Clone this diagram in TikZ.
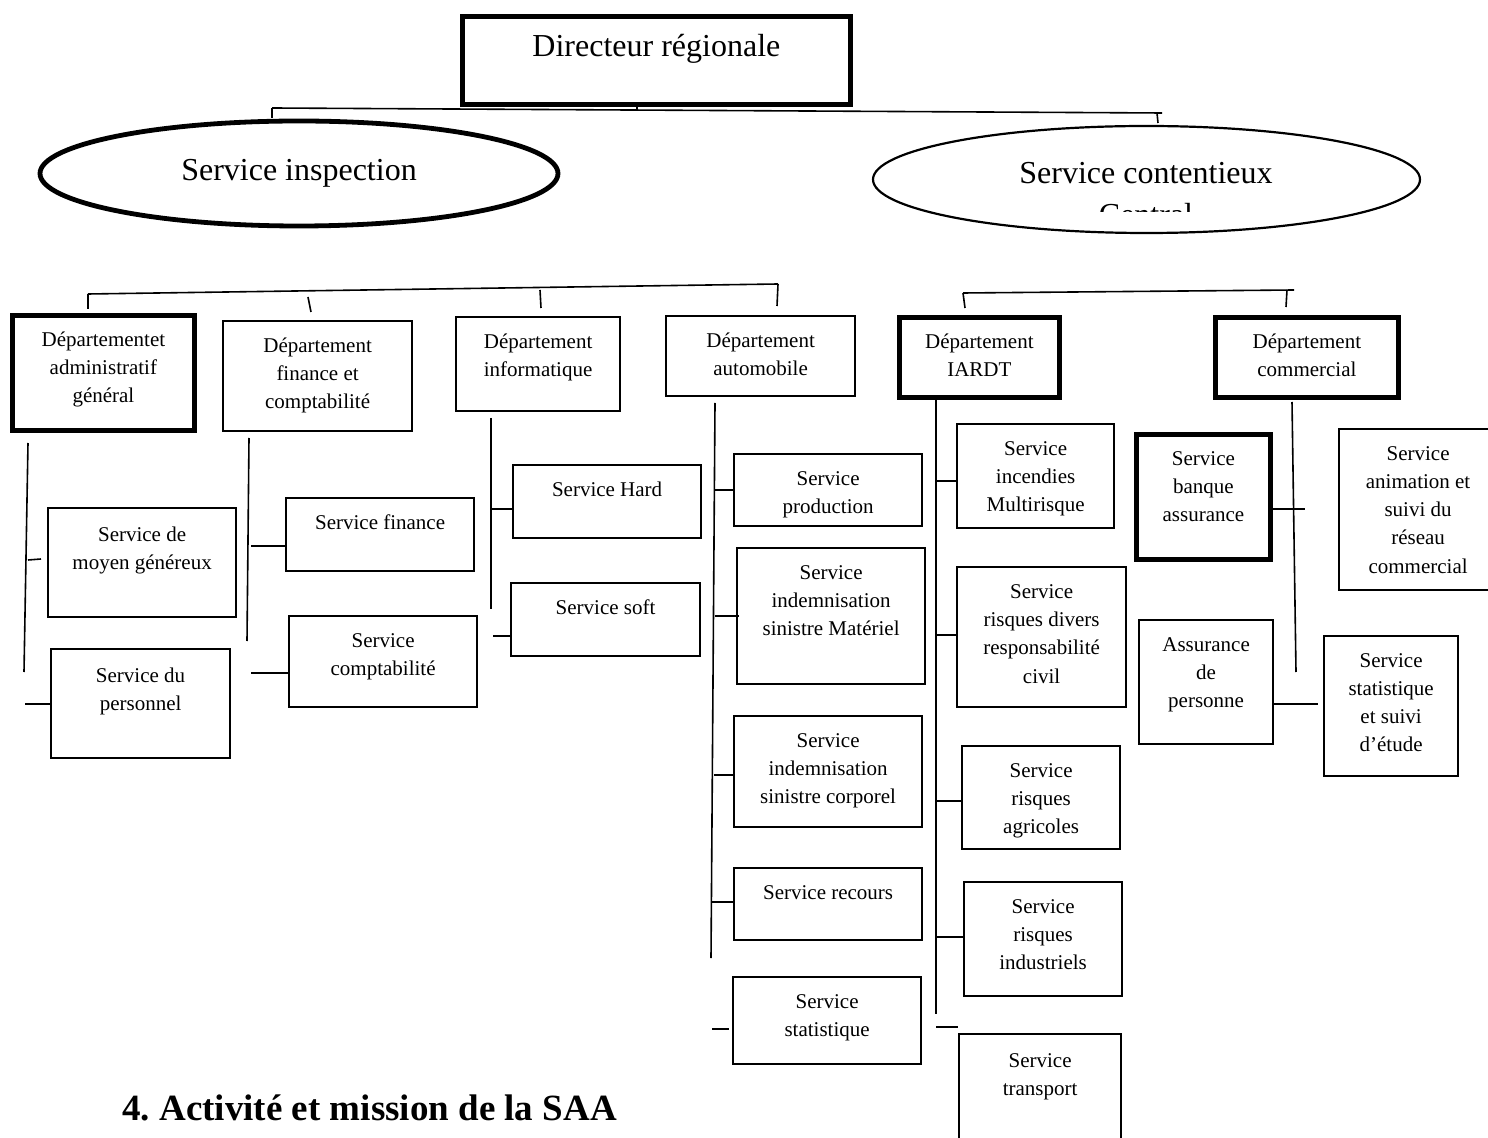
\documentclass[tikz,border=0pt]{standalone}
\usepackage{fontspec}
\setmainfont{Liberation Serif}
\usetikzlibrary{shapes.geometric}
\frenchspacing

\tikzset{
  first baseline/.store in=\firstbase,
  first baseline=15.5pt,
  unitbox/.style={draw, line width=1.1pt, anchor=north west, inner sep=0pt,
    font=\fontsize{10.5}{14.15}\selectfont},
  heavy/.style={line width=2.4pt},
  wire/.style={line width=0.8pt},
  bigtext/.style={font=\fontsize{16}{18.4}\selectfont},
}

% #1 extra style, #2 name, #3 left, #4 top, #5 right, #6 bottom, #7 text
\newcommand\orgbox[7][]{%
  \node[unitbox,#1] (#2) at (#3,#4)
    {\parbox[t][\dimexpr(#6pt-#4pt)/2\relax][t]{\dimexpr(#5pt-#3pt)/2\relax}%
      {\centering\rule{0pt}{\firstbase}#7\par}};}

\begin{document}
\begin{tikzpicture}[x=0.5pt, y=-0.5pt]
\useasboundingbox (0,0) rectangle (1488,1138);
\fill[white] (0,0) rectangle (1488,1138);
\clip (0,0) rectangle (1488,1138);

% ---------- top of the chart ----------
\orgbox[heavy, bigtext, first baseline=20pt]{dir}{460}{14}{848}{102}{Directeur régionale}

\node[ellipse, draw, line width=2.4pt, minimum width=259pt, minimum height=52.5pt,
      inner sep=0pt, bigtext] (inspection) at (299,173.5) {Service inspection};

\node[ellipse, draw, line width=1.1pt, minimum width=273.5pt, minimum height=53.5pt,
      inner sep=0pt] (contentieux) at (1146.5,179.5) {};
\node[anchor=base, inner sep=0pt, bigtext] (conttitle) at (1146,184) {Service contentieux};
\begin{scope}
  \clip (873,126) rectangle (1420,212);
  \node[anchor=base, inner sep=0pt, bigtext] (contsub) at (1146,226) {Central};
\end{scope}

% ---------- departments ----------
\orgbox[heavy]{dadmin}{10}{313}{192}{428}{Départementet\\administratif\\général}
\orgbox{dfin}{222}{320}{411}{430}{Département\\finance et\\comptabilité}
\orgbox{dinfo}{455}{316}{619}{410}{Département\\informatique}
\orgbox{dauto}{665}{315}{854}{395}{Département\\automobile}
\orgbox[heavy]{diardt}{897}{315}{1057}{395}{Département\\IARDT}
\orgbox[heavy]{dcom}{1213}{315}{1396}{395}{Département\\commercial}

% ---------- services ----------
\orgbox[first baseline=16.5pt]{smoyen}{47}{507}{235}{616}{Service de\\moyen généreux}
\orgbox[first baseline=16.5pt]{sperso}{50}{648}{229}{757}{Service du\\personnel}
\orgbox{sfin}{285}{497}{473}{570}{Service finance}
\orgbox{scompta}{288}{615}{476}{706}{Service\\comptabilité}
\orgbox{shard}{512}{464}{700}{537}{Service Hard}
\orgbox{ssoft}{510}{582}{699}{655}{Service soft}
\orgbox{sprod}{733}{453}{921}{525}{Service\\production}
\orgbox{smat}{736}{547}{924}{683}{Service\\indemnisation\\sinistre Matériel}
\orgbox{scorp}{733}{715}{921}{826}{Service\\indemnisation\\sinistre corporel}
\orgbox{srec}{733}{867}{921}{939}{Service recours}
\orgbox{sstat}{732}{976}{920}{1063}{Service\\statistique}
\orgbox{sinc}{956}{423}{1113}{527}{Service\\incendies\\Multirisque}
\orgbox{sdiv}{956}{566}{1125}{706}{Service\\risques divers\\responsabilité\\civil}
\orgbox{sagri}{961}{745}{1119}{848}{Service\\risques\\agricoles}
\orgbox{sind}{963}{881}{1121}{995}{Service\\risques\\industriels}
\orgbox[first baseline=16.5pt]{strans}{958}{1033}{1120}{1150}{Service\\transport}
\orgbox[heavy]{sbanque}{1134}{432}{1268}{557}{Service\\banque\\assurance}
\orgbox{sanim}{1338}{428}{1496}{589}{Service\\animation et\\suivi du\\réseau\\commercial}
\orgbox{spers}{1138}{619}{1272}{743}{Assurance\\de\\personne}
\orgbox{sstud}{1323}{635}{1457}{775}{Service\\statistique\\et suivi\\d’étude}

\node[anchor=base west, inner sep=0pt, font=\fontsize{18.5}{22}\selectfont\bfseries]
  (heading) at (122,1120) {4. Activité et mission de la SAA};

% ---------- connectors ----------
\begin{scope}[wire]
  % director to the staff services
  \coordinate (topL) at (272,108);
  \coordinate (topR) at (1162,113);
  \coordinate (dirfoot) at (637,109);
  \coordinate (inspTick) at (272,118);
  \coordinate (contTickA) at (1157,113);
  \coordinate (contTickB) at (1158,123);
  \draw (dir.south -| dirfoot) -- (dirfoot);
  \draw (topL) -- (topR);
  \draw (topL) -- (inspTick);
  \draw (contTickA) -- (contTickB);

  % bracket over the four left departments
  \coordinate (lbL) at (88,294);
  \coordinate (lbR) at (778,284);
  \coordinate (lbA) at (88,309);
  \coordinate (lbB1) at (308,297);
  \coordinate (lbB2) at (311,312);
  \coordinate (lbC1) at (540,290);
  \coordinate (lbC2) at (541,308);
  \coordinate (lbD) at (777,306);
  \draw (lbL) -- (lbR);
  \draw (lbL) -- (lbA);
  \draw (lbB1) -- (lbB2);
  \draw (lbC1) -- (lbC2);
  \draw (lbR) -- (lbD);

  % bracket over the two right departments
  \coordinate (rbL) at (963,293);
  \coordinate (rbR) at (1294,290);
  \coordinate (rbA) at (965,308);
  \coordinate (rbB1) at (1287,290);
  \coordinate (rbB2) at (1286,307);
  \draw (rbL) -- (rbR);
  \draw (rbL) -- (rbA);
  \draw (rbB1) -- (rbB2);

  % administration
  \coordinate (adTop) at (28,443);
  \coordinate (adBot) at (24,672);
  \coordinate (adM1) at (28,560);
  \coordinate (adM2) at (41,559);
  \coordinate (adP) at (25,704);
  \draw (adTop) -- (adBot);
  \draw (adM1) -- (adM2);
  \draw (adP) -- (adP -| sperso.west);

  % finance
  \coordinate (fiTop) at (249,438);
  \coordinate (fiBot) at (247,641);
  \coordinate (fiF) at (251,546);
  \coordinate (fiC) at (251,673);
  \draw (fiTop) -- (fiBot);
  \draw (fiF) -- (fiF -| sfin.west);
  \draw (fiC) -- (fiC -| scompta.west);

  % informatique
  \coordinate (inTop) at (491,418);
  \coordinate (inBot) at (491,609);
  \coordinate (inH) at (492,509);
  \coordinate (inS) at (493,636);
  \draw (inTop) -- (inBot);
  \draw (inH) -- (inH -| shard.west);
  \draw (inS) -- (inS -| ssoft.west);

  % automobile
  \coordinate (auTop) at (715,403);
  \coordinate (auBot) at (711,958);
  \coordinate (auP) at (715,490);
  \coordinate (auM1) at (715,616);
  \coordinate (auM2) at (739,616);
  \coordinate (auC) at (714,775);
  \coordinate (auR) at (712,902);
  \coordinate (auS1) at (712,1029);
  \coordinate (auS2) at (729,1029);
  \draw (auTop) -- (auBot);
  \draw (auP) -- (auP -| sprod.west);
  \draw (auM1) -- (auM2);
  \draw (auC) -- (auC -| scorp.west);
  \draw (auR) -- (auR -| srec.west);
  \draw (auS1) -- (auS2);

  % IARDT
  \coordinate (iaTop) at (936,400);
  \coordinate (iaBot) at (936,1014);
  \coordinate (iaI) at (936,481);
  \coordinate (iaD) at (937,635);
  \coordinate (iaA) at (936,801);
  \coordinate (iaN) at (936,937);
  \coordinate (iaT1) at (936,1027);
  \coordinate (iaT2) at (958,1027);
  \draw (iaTop) -- (iaBot);
  \draw (iaI) -- (iaI -| sinc.west);
  \draw (iaD) -- (iaD -| sdiv.west);
  \draw (iaA) -- (iaA -| sagri.west);
  \draw (iaN) -- (iaN -| sind.west);
  \draw (iaT1) -- (iaT2);

  % commercial
  \coordinate (coTop) at (1292,402);
  \coordinate (coBot) at (1296,672);
  \coordinate (coB) at (1305,509);
  \coordinate (coP) at (1318,704);
  \draw (coTop) -- (coBot);
  \draw (sbanque.east |- coB) -- (coB);
  \draw (spers.east |- coP) -- (coP);
\end{scope}
\end{tikzpicture}
\end{document}
